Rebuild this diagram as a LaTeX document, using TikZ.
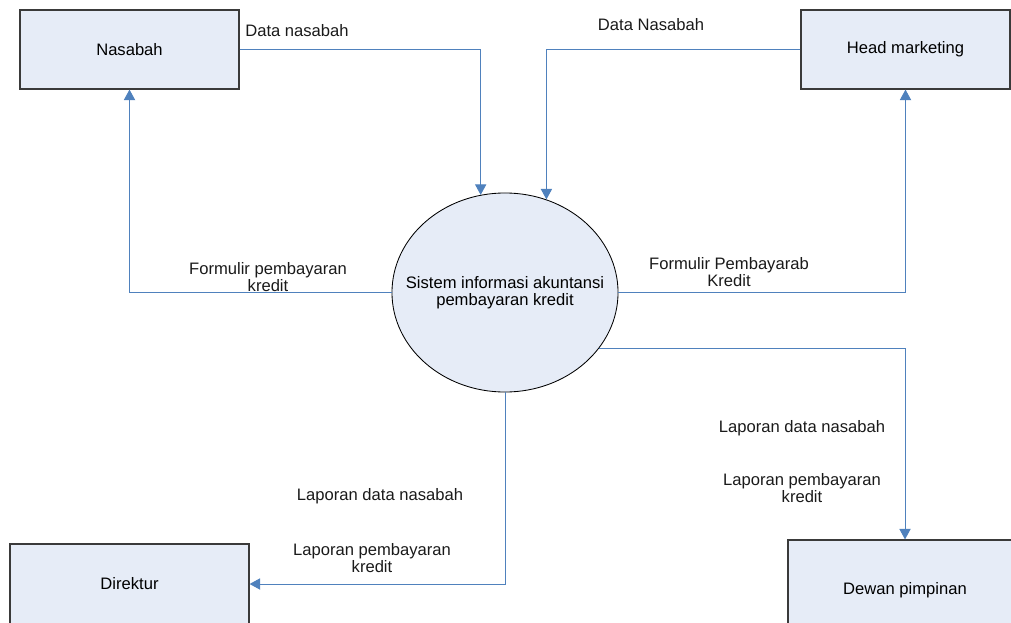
\documentclass[tikz,border=0pt]{standalone}
\usepackage{fontspec}
\setmainfont{Liberation Sans}
\usepackage{tikz}
\usetikzlibrary{arrows.meta, shapes.geometric}
\definecolor{BoxFill}{HTML}{E6ECF7}
\definecolor{BoxLine}{HTML}{3A3A3A}
\definecolor{FlowBlue}{HTML}{4F81BD}
\definecolor{TextGray}{HTML}{1A1A1A}

\tikzset{
    entity/.style={draw=BoxLine, fill=BoxFill, line width=0.8pt, align=center},
    process/.style={ellipse, draw=black, fill=BoxFill, line width=0.6pt, align=center,
        minimum width=5.65cm, minimum height=4.975cm, inner xsep=-14pt, inner ysep=0pt},
    flow/.style={draw=FlowBlue, line width=0.7pt, -{Triangle[width=8pt,length=7.5pt]}},
    lbl/.style={align=center, text=TextGray, inner sep=0pt}
}

\begin{document}
\begin{tikzpicture}[x=0.025cm, y=-0.025cm,
    every node/.style={font=\fontsize{11.8}{12.4}\selectfont}]
\useasboundingbox (0,0) rectangle (1011,623);

% entitas luar
\node[entity, minimum width=5.475cm, minimum height=1.975cm] (nas) at (129.5,49.5) {Nasabah};
\node[entity, minimum width=5.225cm, minimum height=1.975cm] (head) at (905.5,49.5) {Head marketing};
\node[entity, minimum width=5.975cm, minimum height=2cm] (dir) at (129.5,584) {Direktur};
\node[entity, minimum width=5.85cm, minimum height=2.5cm] (dewan) at (905,590) {Dewan pimpinan};

% proses
\node[process] (sis) at (505,292.5) {Sistem informasi akuntansi\\pembayaran kredit};

% aliran data
\draw[flow] (nas.east) -| (sis.104.5);
\draw[flow] (head.west) -| (sis.66.7);
\draw[flow] (sis.west) -| (nas.south);
\draw[flow] (sis.east) -| (head.south);
\draw[flow] (sis.-31.5) -| (dewan.north);
\draw[flow] (sis.south) |- (dir.east);

% label aliran
\node[lbl] (l1) at (297,31) {Data nasabah};
\node[lbl] (l2) at (651,25) {Data Nasabah};
\node[lbl] (l3) at (268,277) {Formulir pembayaran\\kredit};
\node[lbl] (l4) at (729,272) {Formulir Pembayarab\\Kredit};
\node[lbl] (l5) at (802,428) {Laporan data nasabah};
\node[lbl] (l6) at (802,488) {Laporan pembayaran\\kredit};
\node[lbl] (l7) at (380,496) {Laporan data nasabah};
\node[lbl] (l8) at (372,558) {Laporan pembayaran\\kredit};
\end{tikzpicture}
\end{document}
